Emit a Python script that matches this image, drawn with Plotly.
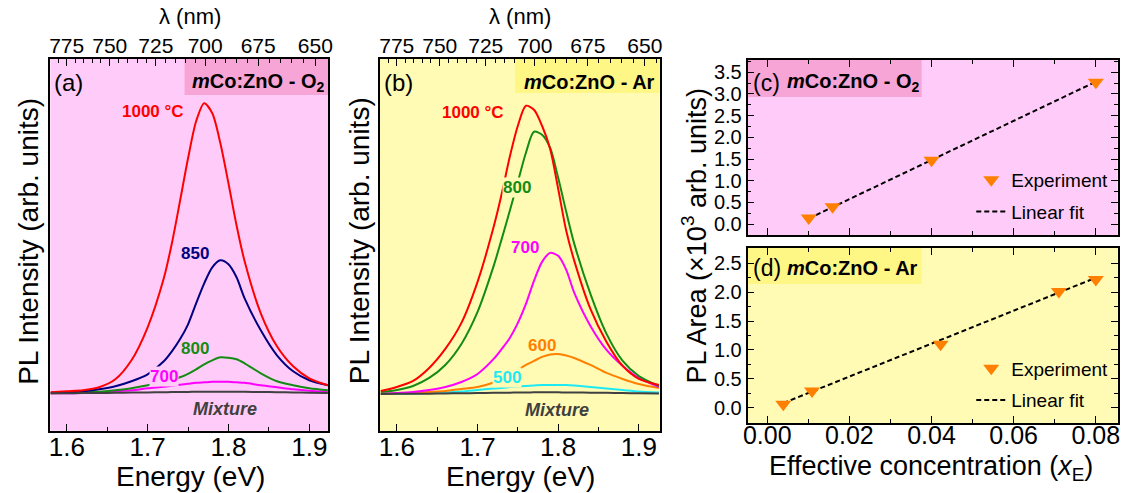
import plotly.graph_objects as go

W, H = 1134, 493

# ---------------- data ----------------
energy_a = [1.58, 1.60, 1.62, 1.64, 1.66, 1.68, 1.70, 1.72, 1.73, 1.74, 1.75, 1.76,
            1.77, 1.78, 1.79, 1.80, 1.81, 1.82, 1.84, 1.86, 1.88, 1.90, 1.923]
pl_a_1000 = [1, 2, 3, 6, 14, 33, 66, 115, 150, 192, 235, 272, 290, 280, 250, 210, 168, 132, 80, 47, 27, 15, 8]
pl_a_850 = [0.5, 1, 2, 4, 7, 12, 19, 32, 42, 54, 69, 90, 110, 126, 133, 129, 116, 95, 63, 38, 22, 13, 8]
pl_a_800 = [0, 0.5, 1, 1.5, 3, 5, 8, 12, 14, 16, 19.5, 24, 29, 33, 36, 35.5, 34, 30, 20, 12, 8, 5, 3]
pl_a_700 = [0, 0, 0.5, 1, 2, 3, 5, 6.5, 7.5, 8.5, 9.5, 10.5, 11, 11.5, 11.5, 11.5, 11, 10.5, 8, 6, 4, 2.5, 1.5]
pl_a_mix = [0, 0.1, 0.2, 0.3, 0.5, 0.7, 0.9, 1.1, 1.2, 1.3, 1.4, 1.5, 1.6, 1.6, 1.6, 1.6, 1.5, 1.5, 1.3, 1.1, 0.9, 0.6, 0.4]

energy_b = [1.58, 1.60, 1.62, 1.64, 1.66, 1.68, 1.70, 1.72, 1.73, 1.74, 1.75, 1.76,
            1.77, 1.78, 1.79, 1.80, 1.81, 1.82, 1.84, 1.86, 1.88, 1.90, 1.925]
pl_b_1000 = [3, 7, 13, 26, 45, 71, 112, 167, 200, 237, 268, 288, 284, 268, 245, 205, 163, 133, 85, 52, 28, 15, 9]
pl_b_800 = [2, 4, 8, 16, 29, 50, 82, 128, 155, 183, 212, 241, 262, 259, 246, 216, 182, 150, 100, 60, 33, 18, 8]
pl_b_700 = [0.5, 1, 2, 4, 7, 12, 20, 35, 45, 56, 71, 90, 113, 132, 141, 138, 124, 101, 68, 44, 28, 16, 7]
pl_b_600 = [0, 0.5, 1, 2, 3, 5, 7, 11.5, 14, 19, 24, 29, 33, 37, 39.5, 40, 38.5, 36, 29, 21, 15, 10, 6]
pl_b_500 = [0, 0, 0.5, 1, 1.5, 2.5, 4, 5.5, 6, 7, 7.5, 8, 8.5, 9, 9, 9, 9, 8.5, 7, 5.5, 4, 2.5, 1.5]
pl_b_mix = [0, 0.1, 0.2, 0.3, 0.5, 0.7, 0.9, 1.1, 1.2, 1.3, 1.4, 1.5, 1.6, 1.6, 1.6, 1.6, 1.5, 1.5, 1.3, 1.1, 0.9, 0.6, 0.4]

conc_c = [0.0101, 0.0159, 0.0400, 0.0800]
area_c = [0.14, 0.40, 1.47, 3.27]
fit_c_x = [0.0101, 0.0800]
fit_c_y = [0.13, 3.28]

conc_d = [0.0039, 0.0109, 0.0422, 0.0710, 0.0800]
area_d = [0.06, 0.29, 1.10, 2.01, 2.22]
fit_d_x = [0.0039, 0.0800]
fit_d_y = [0.08, 2.25]

energy_ticks = [1.6, 1.7, 1.8, 1.9]
wl_ticks = [775, 750, 725, 700, 675, 650]
wl_minor = list(range(645, 785, 5))
conc_ticks = [0.00, 0.02, 0.04, 0.06, 0.08]

# ---------------- styling ----------------
FONT = "Liberation Sans, Arial, sans-serif"
PINK_BG, PINK_BOX = "#FFCCFA", "#F7A4D6"
YEL_BG, YEL_BOX = "#FFFBB4", "#FFF785"
RED, NAVY, GREEN, MAG, ORANGE, CYAN, GRAY = "#FF0000", "#000080", "#148C14", "#FF00FF", "#FF8000", "#1EEAF5", "#404040"

# pixel boxes of the plotting areas: (left, right, top, bottom)
PA = (46.7, 326.7, 59, 430.7)
PB = (379, 661, 59, 431)
PC = (749.5, 1122.5, 60, 235)
PD = (749.5, 1122.5, 248, 423)


def xdom(p):
    return [p[0] / W, p[1] / W]


def ydom(p):
    return [1 - p[3] / H, 1 - p[2] / H]


def px(x):
    return x / W


def py(y):
    return 1 - y / H


fig = go.Figure()


def spec(x, y, color, xa, ya):
    fig.add_trace(go.Scatter(x=x, y=y, mode="lines", line=dict(color=color, width=2, shape="spline", smoothing=0.8),
                             xaxis=xa, yaxis=ya, showlegend=False, hoverinfo="skip"))


# panel (a)
spec(energy_a, pl_a_mix, GRAY, "x5", "y")
spec(energy_a, pl_a_700, MAG, "x", "y")
spec(energy_a, pl_a_800, GREEN, "x", "y")
spec(energy_a, pl_a_850, NAVY, "x", "y")
spec(energy_a, pl_a_1000, RED, "x", "y")
# panel (b)
spec(energy_b, pl_b_mix, GRAY, "x6", "y2")
spec(energy_b, pl_b_500, CYAN, "x2", "y2")
spec(energy_b, pl_b_600, ORANGE, "x2", "y2")
spec(energy_b, pl_b_700, MAG, "x2", "y2")
spec(energy_b, pl_b_800, GREEN, "x2", "y2")
spec(energy_b, pl_b_1000, RED, "x2", "y2")

# panels (c) and (d)
for cx, cy, fx, fy, xa, ya, lg in [(conc_c, area_c, fit_c_x, fit_c_y, "x3", "y3", "legend"),
                                   (conc_d, area_d, fit_d_x, fit_d_y, "x4", "y4", "legend2")]:
    fig.add_trace(go.Scatter(x=fx, y=fy, mode="lines", name="Linear fit",
                             line=dict(color="black", width=2, dash="5px,3px"),
                             xaxis=xa, yaxis=ya, legend=lg, legendgroup=lg + "fit", legendrank=2))
    fig.add_trace(go.Scatter(x=cx, y=cy, mode="markers", name="Experiment",
                             marker=dict(symbol="triangle-down", color=ORANGE, size=14, line=dict(width=0)),
                             xaxis=xa, yaxis=ya, legend=lg, legendgroup=lg + "exp", legendrank=1))

axis_common = dict(showgrid=False, zeroline=False, showline=True, linecolor="black", linewidth=1.6,
                   tickcolor="black", tickwidth=1.4)

energy_axis = dict(axis_common, range=[1.5796, 1.9233], tickvals=energy_ticks, ticktext=[f"{v:.1f}" for v in energy_ticks],
                   ticks="inside", ticklen=7, ticklabelstandoff=-8,
                   minor=dict(ticks="inside", ticklen=4, tickvals=[1.65, 1.75, 1.85], tickcolor="black", tickwidth=1.4),
                   tickfont=dict(size=26, family=FONT, color="black"))
wl_axis = dict(axis_common, tickvals=[1239.84 / w for w in wl_ticks], ticktext=[str(w) for w in wl_ticks],
               ticks="inside", ticklen=7, side="top", ticklabelstandoff=-4,
               minor=dict(ticks="inside", ticklen=4, tickvals=[1239.84 / w for w in wl_minor], tickcolor="black", tickwidth=1.2),
               tickfont=dict(size=21, family=FONT, color="black"))
int_axis = dict(axis_common, showticklabels=False, ticks="", mirror=True)

conc_axis = dict(axis_common, range=[-0.0048, 0.0853], tickvals=conc_ticks, ticktext=[f"{v:.2f}" for v in conc_ticks],
                 ticks="inside", ticklen=7, mirror="ticks", ticklabelstandoff=-11,
                 minor=dict(ticks="inside", ticklen=4, dtick=0.01, tick0=0, tickcolor="black", tickwidth=1.4),
                 tickfont=dict(size=25, family=FONT, color="black"))
area_axis = dict(axis_common, dtick=0.5, tick0=0, tickformat=".1f", ticks="inside", ticklen=7, mirror="ticks",
                 minor=dict(ticks="inside", ticklen=4, dtick=0.25, tick0=0, tickcolor="black", tickwidth=1.4),
                 tickfont=dict(size=20, family=FONT, color="black"))

legend_common = dict(xanchor="left", yanchor="middle", bgcolor="rgba(0,0,0,0)",
                     font=dict(size=19, family=FONT, color="black"), traceorder="grouped", tracegroupgap=4,
                     itemwidth=30)

fig.update_layout(
    width=W, height=H, margin=dict(l=0, r=0, t=0, b=0),
    paper_bgcolor="white", plot_bgcolor="rgba(0,0,0,0)",
    font=dict(family=FONT, color="black"),
    xaxis=dict(energy_axis, domain=xdom(PA), anchor="y"),
    yaxis=dict(int_axis, domain=ydom(PA), anchor="x", range=[-37.4, 334.3]),
    xaxis5=dict(wl_axis, overlaying="x", anchor="y", range=[1.5796, 1.9233]),
    xaxis2=dict(energy_axis, domain=xdom(PB), anchor="y2", range=[1.579, 1.926]),
    yaxis2=dict(int_axis, domain=ydom(PB), anchor="x2", range=[-37.0, 334.7]),
    xaxis6=dict(wl_axis, overlaying="x2", anchor="y2", range=[1.579, 1.926]),
    xaxis3=dict(conc_axis, domain=xdom(PC), anchor="y3", showticklabels=False),
    yaxis3=dict(area_axis, domain=ydom(PC), anchor="x3", range=[-0.25, 3.78]),
    xaxis4=dict(conc_axis, domain=xdom(PD), anchor="y4"),
    yaxis4=dict(area_axis, domain=ydom(PD), anchor="x4", range=[-0.265, 2.765]),
    legend=dict(legend_common, x=px(975), y=py(196)),
    legend2=dict(legend_common, x=px(975), y=py(384.5)),
)

# backgrounds and highlight boxes (axis-domain referenced)
shapes = []


def rect_px(xa, ya, p, x0, x1, y0, y1, color):
    shapes.append(dict(type="rect", xref=f"{xa} domain", yref=f"{ya} domain",
                       x0=(x0 - p[0]) / (p[1] - p[0]), x1=(x1 - p[0]) / (p[1] - p[0]),
                       y0=(p[3] - y1) / (p[3] - p[2]), y1=(p[3] - y0) / (p[3] - p[2]),
                       fillcolor=color, line=dict(width=0), layer="below"))


rect_px("x", "y", PA, PA[0], PA[1], PA[2], PA[3], PINK_BG)
rect_px("x", "y", PA, 182, PA[1], PA[2], 95, PINK_BOX)
rect_px("x2", "y2", PB, PB[0], PB[1], PB[2], PB[3], YEL_BG)
rect_px("x2", "y2", PB, 515, PB[1], PB[2], 93, YEL_BOX)
rect_px("x3", "y3", PC, PC[0], PC[1], PC[2], PC[3], PINK_BG)
rect_px("x3", "y3", PC, PC[0], 925, PC[2], 97, PINK_BOX)
rect_px("x4", "y4", PD, PD[0], PD[1], PD[2], PD[3], YEL_BG)
rect_px("x4", "y4", PD, PD[0], 925, PD[2], 284, YEL_BOX)
fig.update_layout(shapes=shapes)

ann = []


def text(x, y, s, size, color="black", xanchor="center", angle=0, bg=None, pad=0):
    d = dict(x=px(x), y=py(y), xref="paper", yref="paper", text=s, showarrow=False, xanchor=xanchor,
             yanchor="middle", textangle=angle, font=dict(size=size, family=FONT, color=color), borderpad=pad)
    if bg:
        d["bgcolor"] = bg
    ann.append(d)


# axis titles
text(187.5, 17, "λ (nm)", 22)
text(520, 17, "λ (nm)", 22)
text(187.5, 476, "Energy (eV)", 28)
text(521, 476, "Energy (eV)", 28)
text(24, 241, "PL Intensity (arb. units)", 28, angle=-90)
text(358, 241, "PL Intensity (arb. units)", 28, angle=-90)
text(696, 236, "PL Area (×10<sup>3</sup> arb. units)", 27, angle=-90)
text(934, 468, "Effective concentration (<i>x</i><sub>E</sub>)", 27)

# panel labels
text(49, 82, "(a)", 24, xanchor="left")
text(382, 82, "(b)", 24, xanchor="left")
text(324, 82, "<b><i>m</i>Co:ZnO - O<sub>2</sub></b>", 20, xanchor="right")
text(657, 82, "<b><i>m</i>Co:ZnO - Ar</b>", 20, xanchor="right")
text(754, 83, "(c)", 23, xanchor="left")
text(788, 83, "<b><i>m</i>Co:ZnO - O<sub>2</sub></b>", 20, xanchor="left")
text(754, 268, "(d)", 23, xanchor="left")
text(788, 268, "<b><i>m</i>Co:ZnO - Ar</b>", 20, xanchor="left")

# curve labels (a)
text(150, 111, "<b>1000 °C</b>", 17, RED)
text(193, 253, "<b>850</b>", 17, NAVY)
text(193, 348, "<b>800</b>", 17, GREEN)
text(161, 376, "<b>700</b>", 17, MAG, bg=PINK_BG)
text(223, 409, "<b><i>Mixture</i></b>", 18, GRAY)
# curve labels (b)
text(473, 112, "<b>1000 °C</b>", 17, RED)
text(517, 188, "<b>800</b>", 17, GREEN, bg=YEL_BG)
text(525, 247, "<b>700</b>", 17, MAG)
text(542, 345, "<b>600</b>", 17, ORANGE)
text(507, 377, "<b>500</b>", 17, CYAN, bg=YEL_BG)
text(557, 410, "<b><i>Mixture</i></b>", 18, GRAY)

fig.update_layout(annotations=ann)

fig.write_html("out.html")
